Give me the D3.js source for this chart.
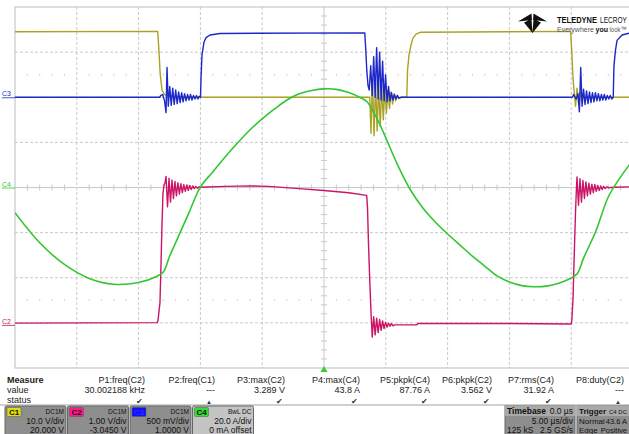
<!DOCTYPE html>
<html>
<head>
<meta charset="utf-8">
<script src="https://cdn.jsdelivr.net/npm/d3@7"></script>
<style>
  body { margin: 0; background: #fff; }
  svg text { font-family: "Liberation Sans", Arial, sans-serif; }
</style>
</head>
<body>
<svg id="scope" width="629" height="434"></svg>
<script>
// traces: [time in µs, value in channel units]
const c1Trace = [[-25,14.5],[-13.45,14.6],[-13.35,10],[-13.25,5],[-13.1,1.5],[-12.9,0.6],[-12.5,0.2],[-10,0],[3.7,0],
  [3.8,-8],[3.92,4],[4.05,-8.5],[4.17,3.5],[4.3,-7.5],[4.42,3],[4.55,-6.5],[4.67,2.5],[4.8,-5],[4.92,2],[5.05,-3.5],
  [5.17,1.5],[5.3,-2.5],[5.42,1.2],[5.55,-1.5],[5.67,0.8],[5.8,-0.8],[5.92,0.4],[6.05,-0.3],[6.3,0],[6.7,0],
  [6.76,6],[6.88,9.4],[7.04,11.6],[7.2,13.1],[7.45,14],[7.77,14.4],[19.95,14.6],[20.05,10],[20.15,4],[20.25,1],
  [20.35,-2],[20.47,2],[20.6,-1.5],[20.72,1.2],[20.85,-1],[20.97,0.7],[21.1,-0.5],[21.3,0],[25,0]];

const c2Trace = [[-25,0.04],[-13.5,0.05],[-13.43,0.1],[-13.27,0.5],[-13.19,1.3],[-13.11,2.2],[-13.03,2.9],[-12.94,3.1],
  [-12.86,3.15],[-12.78,3.29],[-12.66,2.62],[-12.54,3.25],[-12.42,2.72],[-12.3,3.21],[-12.18,2.8],[-12.06,3.18],
  [-11.94,2.86],[-11.82,3.15],[-11.7,2.9],[-11.58,3.13],[-11.46,2.93],[-11.34,3.11],[-11.22,2.96],[-11.1,3.1],
  [-10.98,2.98],[-10.86,3.09],[-10.74,3.0],[-10.62,3.08],[-10.5,3.02],[-10.38,3.07],[-10.26,3.03],[-10.1,3.06],
  [-10,3.05],[-8,3.07],[-6,3.08],[-4.5,3.07],[-2,3.02],[0,2.98],[2,2.93],[3.45,2.87],[3.52,2.6],[3.6,1.8],[3.7,1.0],
  [3.8,0.3],[3.9,-0.27],[4.02,0.18],[4.14,-0.22],[4.26,0.15],[4.38,-0.17],[4.5,0.12],[4.62,-0.12],[4.74,0.09],
  [4.86,-0.08],[4.98,0.06],[5.1,-0.05],[5.22,0.04],[5.34,-0.03],[5.46,0.03],[5.58,-0.02],[5.7,0],[7.5,0],[7.6,0.035],
  [15,0.03],[20,0.02],[20.05,0.1],[20.15,0.6],[20.25,1.6],[20.35,2.5],[20.42,3.0],[20.47,3.28],[20.59,2.65],
  [20.71,3.24],[20.83,2.72],[20.95,3.2],[21.07,2.8],[21.19,3.17],[21.31,2.86],[21.43,3.14],[21.55,2.9],[21.67,3.12],
  [21.79,2.93],[21.91,3.11],[22.03,2.96],[22.15,3.09],[22.27,2.98],[22.39,3.08],[22.51,3.0],[22.63,3.07],
  [22.75,3.02],[22.87,3.06],[23,3.04],[23.5,3.05],[25,3.06]];

const c3Trace = [[-25,0],[-13.3,0],[-13.2,0.02],[-13.05,0.03],[-12.9,-0.04],[-12.78,-0.17],[-12.7,0.33],[-12.6,-0.1],
  [-12.48,0.12],[-12.36,-0.09],[-12.24,0.1],[-12.12,-0.08],[-12,0.08],[-11.88,-0.07],[-11.76,0.06],[-11.64,-0.06],
  [-11.52,0.05],[-11.4,-0.05],[-11.28,0.04],[-11.16,-0.04],[-11.04,0.03],[-10.92,-0.03],[-10.8,0.03],[-10.68,-0.03],
  [-10.56,0.02],[-10.44,-0.02],[-10.32,0.02],[-10.2,-0.02],[-10.1,0.01],[-9.99,0],[-9.95,0.21],[-9.87,0.47],
  [-9.71,0.61],[-9.55,0.66],[-9.22,0.69],[-8.41,0.707],[3.3,0.713],[3.38,0.53],[3.46,0.3],[3.56,0.13],[3.66,0.08],
  [3.78,0.35],[3.9,0.02],[4.02,0.45],[4.14,0],[4.26,0.55],[4.38,-0.02],[4.5,0.5],[4.62,-0.03],[4.74,0.4],[4.86,-0.04],
  [4.98,0.25],[5.1,-0.05],[5.22,0.12],[5.34,-0.04],[5.46,0.05],[5.58,-0.03],[5.7,0.03],[5.82,-0.02],[5.94,0.02],
  [6.06,-0.01],[6.2,0],[20.1,0],[20.2,0.03],[20.4,-0.02],[20.55,0.04],[20.66,-0.16],[20.77,0.33],[20.88,-0.1],
  [21,0.09],[21.12,-0.08],[21.24,0.07],[21.36,-0.07],[21.48,0.06],[21.6,-0.06],[21.72,0.05],[21.84,-0.05],
  [21.96,0.05],[22.08,-0.04],[22.2,0.04],[22.32,-0.04],[22.44,0.03],[22.56,-0.03],[22.68,0.03],[22.8,-0.03],
  [22.92,0.02],[23.04,-0.02],[23.16,0.02],[23.28,-0.02],[23.4,0],[23.46,0.35],[23.58,0.52],[23.71,0.63],
  [24.11,0.69],[24.68,0.71],[25,0.713]];

const c4Trace = [[-25,-11.2],[-23,-24.5],[-21,-34.1],[-19,-40.3],[-17,-42.9],[-15,-42.1],[-13.5,-39.3],[-13,-37.5],
  [-12.5,-30.6],[-12,-24.4],[-11,-12.1],[-10,0.2],[-9,6.9],[-8,13.5],[-7,19.7],[-6,25.5],[-5,30.4],[-4,34.8],
  [-3,38.8],[-2,41.5],[-1,43.0],[0,43.7],[1,43.5],[2,42.1],[3,39.7],[3.5,37.9],[4,33.5],[4.5,28.2],[5,22.0],
  [6,9.5],[7,-1.1],[8,-9.1],[9,-15.3],[10,-20.6],[11,-25.5],[12,-30.4],[13,-34.8],[14,-39.2],[15,-41.9],[16,-43.5],
  [17,-43.96],[18,-43.7],[19,-42.4],[20,-40.1],[20.5,-38.1],[21,-31.3],[22,-19.3],[23,-4.2],[24,4.7],[25,12.2]];

const chNames = ["C1", "C2", "C3", "C4"];
const chColors = ["#a9a227", "#cc1466", "#1c28c8", "#33c633"];
const chBadge = ["#e0dc10", "#ff1a8c", "#1010ff", "#33dd33"];
const vPerDiv = [10, 1, 0.5, 20];
const vOffset = [20, -3.045, 1, 0];
const chCoupling = ["DC1M", "DC1M", "DC1M", "BwL DC"];
const chScaleText = ["10.0 V/div", "1.00 V/div", "500 mV/div", "20.0 A/div"];
const chOffsetText = ["20.000 V", "-3.0450 V", "1.0000 V", "0 mA offset"];

const measLabels = ["P1:freq(C2)", "P2:freq(C1)", "P3:max(C2)", "P4:max(C4)", "P5:pkpk(C4)", "P6:pkpk(C2)", "P7:rms(C4)", "P8:duty(C2)"];
const measValues = ["30.002188 kHz", "---", "3.289 V", "43.8 A", "87.76 A", "3.562 V", "31.92 A", "---"];
const measStatus = ["ok", "warn", "ok", "ok", "ok", "ok", "ok", "warn"];

const svg = d3.select("#scope");
const W = 629, H = 434;
const gLeft = 15, gRight = 633, gTop = 7, gBottom = 368;
const divW = (gRight - gLeft) / 10, divH = (gBottom - gTop) / 8;

const x = d3.scaleLinear().domain([-25, 25]).range([gLeft, gRight]);
const yDiv = d3.scaleLinear().domain([-4, 4]).range([gBottom, gTop]);
const yCh = vPerDiv.map((v, i) => d3.scaleLinear()
  .domain([-4 * v - vOffset[i], 4 * v - vOffset[i]]).range([gBottom, gTop]));

svg.append("rect").attr("width", W).attr("height", H).attr("fill", "#fff");

// grid
const grid = svg.append("g");
const gridColor = "#c9c9c9";
d3.range(1, 10).forEach(i => {
  grid.append("line").attr("x1", gLeft + i * divW).attr("x2", gLeft + i * divW)
    .attr("y1", gTop).attr("y2", gBottom).attr("stroke", gridColor)
    .attr("stroke-dasharray", i === 5 ? null : "3,2");
});
d3.range(1, 8).forEach(i => {
  grid.append("line").attr("x1", gLeft).attr("x2", gRight)
    .attr("y1", yDiv(i - 4)).attr("y2", yDiv(i - 4)).attr("stroke", gridColor)
    .attr("stroke-dasharray", i === 4 ? null : "3,2");
});
grid.append("rect").attr("x", gLeft).attr("y", gTop).attr("width", gRight - gLeft).attr("height", gBottom - gTop)
  .attr("fill", "none").attr("stroke", "#bdbdbd");
// minor ticks on centre lines, dotted rows at +-2.5 div
d3.range(1, 50).filter(k => k % 5 !== 0).forEach(k => {
  const xx = gLeft + k * divW / 5;
  grid.append("line").attr("x1", xx).attr("x2", xx).attr("y1", yDiv(0) - 3).attr("y2", yDiv(0) + 3).attr("stroke", gridColor);
  grid.append("circle").attr("cx", xx).attr("cy", yDiv(2.5)).attr("r", 0.7).attr("fill", "#c4c4c4");
  grid.append("circle").attr("cx", xx).attr("cy", yDiv(-2.5)).attr("r", 0.7).attr("fill", "#c4c4c4");
});
d3.range(1, 40).filter(k => k % 5 !== 0).forEach(k => {
  const yy = gTop + k * divH / 5;
  grid.append("line").attr("x1", x(0) - 3).attr("x2", x(0) + 3).attr("y1", yy).attr("y2", yy).attr("stroke", gridColor);
});

// traces
svg.append("clipPath").attr("id", "plot").append("rect")
  .attr("x", gLeft).attr("y", gTop).attr("width", gRight - gLeft).attr("height", gBottom - gTop);
const traces = [c1Trace, c2Trace, c3Trace, c4Trace];
const tg = svg.append("g").attr("clip-path", "url(#plot)");
traces.forEach((tr, i) => {
  const line = d3.line().x(d => x(d[0])).y(d => yCh[i](d[1]))
    .curve(i === 3 ? d3.curveCatmullRom : d3.curveLinear);
  tg.append("path").datum(tr).attr("d", line).attr("fill", "none")
    .attr("stroke", chColors[i]).attr("stroke-width", i === 3 ? 1.6 : 1.4)
    .attr("stroke-linejoin", "round");
});

// channel ground markers on the left
[2, 3, 1].forEach(i => {
  const yy = yCh[i](0);
  svg.append("text").attr("x", 2).attr("y", yy - 1).attr("font-size", 7)
    .attr("fill", chColors[i]).text(chNames[i]);
  svg.append("line").attr("x1", 2).attr("x2", 15).attr("y1", yy + 0.5).attr("y2", yy + 0.5)
    .attr("stroke", chColors[i]).attr("stroke-width", 0.8);
});

// trigger marker
svg.append("path").attr("d", d3.symbol(d3.symbolTriangle, 22)())
  .attr("transform", `translate(${x(0)},${gBottom + 2})`).attr("fill", "#33cc33");

// logo
const logo = svg.append("g");
logo.append("path").attr("d", "M518,21.5 L531.5,13.5 L532,20 Z M547,21.5 L533.5,13.5 L533,20 Z M524,22.5 L531.5,19 L532.5,33 Z M541,22.5 L533.5,19 L532.5,33 Z")
  .attr("fill", "#111");
// squeeze each word horizontally to the width it has in the screenshot
const logoWord = (txt, x0, y0, len, size, weight, fill) => {
  const t = logo.append("text").attr("font-size", size).attr("font-weight", weight).attr("fill", fill).text(txt);
  const natural = t.node().getComputedTextLength();
  t.attr("transform", `translate(${x0},${y0}) scale(${len / natural},1)`);
};
logoWord("TELEDYNE", 557, 23, 40, 9.5, "bold", "#111");
logoWord("LECROY", 600, 23, 27, 9.5, "normal", "#111");
logoWord("Everywhere", 557, 32, 37, 8, "normal", "#555");
logoWord("you", 595.5, 32, 12.5, 8, "bold", "#111");
logoWord("look™", 609.5, 32, 17, 8, "normal", "#555");

// measure table
const mt = svg.append("g").attr("font-size", 9).attr("fill", "#222");
mt.append("text").attr("x", 7).attr("y", 383).attr("font-weight", "bold").text("Measure");
mt.append("text").attr("x", 7).attr("y", 393).text("value");
mt.append("text").attr("x", 7).attr("y", 403).text("status");
const colRight = d3.range(8).map(i => 145 + i * 70 + (i >= 3 ? 5 : 0) - (i >= 5 ? 8 : 0) - (i >= 6 ? 8 : 0));
measLabels.forEach((lab, i) => {
  mt.append("text").attr("x", colRight[i]).attr("y", 383).attr("text-anchor", "end").text(lab);
  mt.append("text").attr("x", colRight[i]).attr("y", 393).attr("text-anchor", "end").text(measValues[i]);
  mt.append("text").attr("x", colRight[i] - 6).attr("y", 404).attr("text-anchor", "middle")
    .attr("font-size", measStatus[i] === "ok" ? 8 : 6).attr("fill", "#333")
    .text(measStatus[i] === "ok" ? "✔" : "▲");
});
svg.append("line").attr("x1", 0).attr("x2", W).attr("y1", 405).attr("y2", 405).attr("stroke", "#d0d0d0").attr("stroke-width", 2);

// channel descriptor boxes
const boxW = 61;
chNames.forEach((n, i) => {
  const bx = 5 + i * 62.5, g = svg.append("g").attr("font-size", 7.5).attr("fill", "#111");
  g.append("rect").attr("x", bx).attr("y", 406).attr("width", boxW).attr("height", 30)
    .attr("fill", i === 3 ? "#c4c4c4" : "#8e8e8e").attr("stroke", "#666").attr("rx", 1.5);
  g.append("rect").attr("x", bx + 2).attr("y", 407.5).attr("width", 14).attr("height", 9)
    .attr("fill", chBadge[i]).attr("stroke", "#555").attr("stroke-width", 0.5).attr("rx", 1);
  g.append("text").attr("x", bx + 4).attr("y", 415).attr("font-weight", "bold").attr("font-size", 8)
    .attr("fill", i === 2 ? "#2a2aff" : "#111").text(n);
  g.append("text").attr("x", bx + boxW - 2).attr("y", 414).attr("text-anchor", "end").attr("font-size", 6.5).text(chCoupling[i]);
  g.append("text").attr("x", bx + boxW - 2).attr("y", 424).attr("text-anchor", "end").attr("font-size", 8.5).text(chScaleText[i]);
  g.append("text").attr("x", bx + boxW - 2).attr("y", 433).attr("text-anchor", "end").attr("font-size", 8.5).text(chOffsetText[i]);
});

// timebase / trigger boxes
const tb = svg.append("g").attr("font-size", 8.5).attr("fill", "#111");
tb.append("rect").attr("x", 505).attr("y", 406).attr("width", 70).attr("height", 30).attr("fill", "#8e8e8e").attr("stroke", "#666");
tb.append("rect").attr("x", 505).attr("y", 406).attr("width", 70).attr("height", 10).attr("fill", "#a9a9a9");
tb.append("text").attr("x", 507).attr("y", 414).attr("font-weight", "bold").text("Timebase");
tb.append("text").attr("x", 573).attr("y", 414).attr("text-anchor", "end").text("0.0 µs");
tb.append("text").attr("x", 573).attr("y", 424).attr("text-anchor", "end").text("5.00 µs/div");
tb.append("text").attr("x", 507).attr("y", 433).text("125 kS");
tb.append("text").attr("x", 573).attr("y", 433).attr("text-anchor", "end").text("2.5 GS/s");
tb.append("rect").attr("x", 577).attr("y", 406).attr("width", 70).attr("height", 30).attr("fill", "#8e8e8e").attr("stroke", "#666");
tb.append("rect").attr("x", 577).attr("y", 406).attr("width", 70).attr("height", 10).attr("fill", "#a9a9a9");
tb.append("text").attr("x", 579).attr("y", 414).attr("font-weight", "bold").attr("font-size", 8).text("Trigger");
tb.append("text").attr("x", 627).attr("y", 414).attr("text-anchor", "end").attr("font-size", 6).text("C4 DC");
tb.append("text").attr("x", 579).attr("y", 424).attr("font-size", 8).text("Normal");
tb.append("text").attr("x", 627).attr("y", 424).attr("text-anchor", "end").attr("font-size", 7.5).text("43.6 A");
tb.append("text").attr("x", 579).attr("y", 433).attr("font-size", 8).text("Edge");
tb.append("text").attr("x", 627).attr("y", 433).attr("text-anchor", "end").attr("font-size", 7.5).text("Positive");
</script>
</body>
</html>
